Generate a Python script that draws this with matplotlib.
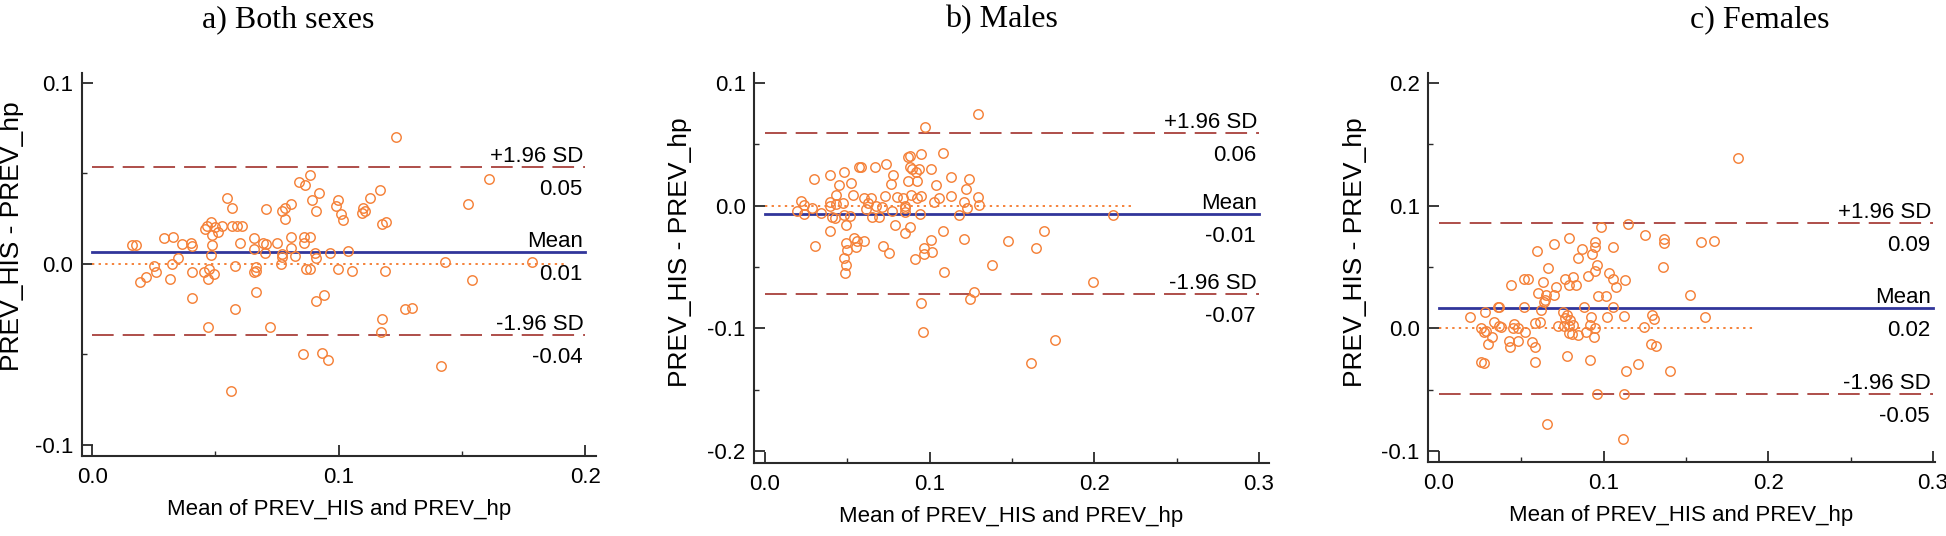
import matplotlib
matplotlib.use("Agg")
import matplotlib.pyplot as plt
from matplotlib.ticker import MultipleLocator, FormatStrFormatter

plt.rcParams["font.family"] = ["Liberation Sans", "DejaVu Sans"]
plt.rcParams["axes.unicode_minus"] = False

titles = ["a) Both sexes", "b) Males", "c) Females"]
x_label = "Mean of PREV_HIS and PREV_hp"
y_label = "PREV_HIS - PREV_hp"

# a) both sexes
both_x = [0.1234, 0.1610, 0.0882, 0.0839, 0.0865, 0.0921, 0.1169, 0.1126, 0.0995, 0.0989,
          0.0890, 0.0545, 0.0568, 0.0705, 0.0808, 0.0781, 0.0768, 0.0781, 0.0908, 0.1008,
          0.1016, 0.1100, 0.1106, 0.1094, 0.1523, 0.1174, 0.1190, 0.0482, 0.0465, 0.0458,
          0.0497, 0.0485, 0.0511, 0.0526, 0.0568, 0.0589, 0.0606, 0.0292, 0.0327, 0.0366,
          0.0400, 0.0403, 0.0163, 0.0176, 0.0485, 0.0598, 0.0655, 0.0694, 0.0706, 0.0750,
          0.0808, 0.0861, 0.0882, 0.0860, 0.0655, 0.0702, 0.0808, 0.0481, 0.0771, 0.0771,
          0.0824, 0.0905, 0.0908, 0.0966, 0.1039, 0.0350, 0.0252, 0.0323, 0.0261, 0.0219,
          0.0194, 0.0316, 0.0406, 0.0452, 0.0473, 0.0495, 0.0471, 0.0581, 0.0666, 0.0655,
          0.0666, 0.0765, 0.0868, 0.0882, 0.0998, 0.1055, 0.1187, 0.1432, 0.1782, 0.1540,
          0.0406, 0.0665, 0.0908, 0.0939, 0.0581, 0.1269, 0.1297, 0.1174, 0.0468, 0.0721,
          0.1171, 0.0855, 0.0931, 0.0956, 0.1416, 0.0563]
both_y = [0.0700, 0.0470, 0.0492, 0.0451, 0.0438, 0.0390, 0.0411, 0.0365, 0.0352, 0.0322,
          0.0352, 0.0365, 0.0311, 0.0304, 0.0331, 0.0309, 0.0293, 0.0250, 0.0293, 0.0276,
          0.0243, 0.0311, 0.0293, 0.0280, 0.0333, 0.0223, 0.0232, 0.0232, 0.0208, 0.0193,
          0.0203, 0.0162, 0.0177, 0.0212, 0.0212, 0.0212, 0.0212, 0.0144, 0.0151, 0.0112,
          0.0118, 0.0101, 0.0103, 0.0103, 0.0103, 0.0114, 0.0144, 0.0118, 0.0112, 0.0114,
          0.0151, 0.0151, 0.0151, 0.0114, 0.0085, 0.0059, 0.0090, 0.0048, 0.0057, 0.0041,
          0.0042, 0.0061, 0.0031, 0.0061, 0.0072, 0.0031, -0.0011, 0.0002, -0.0046, -0.0070,
          -0.0098, -0.0081, -0.0044, -0.0044, -0.0029, -0.0053, -0.0083, -0.0009, -0.0018, -0.0044,
          -0.0037, 0.0002, -0.0029, -0.0029, -0.0028, -0.0041, -0.0041, 0.0013, 0.0013, -0.0087,
          -0.0188, -0.0157, -0.0204, -0.0171, -0.0250, -0.0250, -0.0245, -0.0304, -0.0350, -0.0350,
          -0.0374, -0.0495, -0.0492, -0.0530, -0.0564, -0.0700]

# b) males
male_x = [0.1292, 0.0973, 0.1082, 0.0945, 0.0870, 0.0883, 0.0736, 0.0666, 0.0571, 0.0584,
          0.0880, 0.0890, 0.0938, 0.1010, 0.0479, 0.0397, 0.0776, 0.0915, 0.1130, 0.0299,
          0.1239, 0.0451, 0.0524, 0.0768, 0.0870, 0.0925, 0.1037, 0.1219, 0.0534, 0.0431,
          0.0731, 0.0603, 0.0646, 0.0800, 0.0838, 0.0885, 0.0923, 0.0948, 0.1057, 0.1130,
          0.1292, 0.0217, 0.0392, 0.0434, 0.0397, 0.0471, 0.0234, 0.0284, 0.0623, 0.0671,
          0.0613, 0.0711, 0.0850, 0.0853, 0.1027, 0.1209, 0.1229, 0.1302, 0.0192, 0.0239,
          0.0339, 0.0406, 0.0426, 0.0479, 0.0514, 0.0651, 0.0691, 0.0773, 0.0850, 0.0943,
          0.1177, 0.2115, 0.0788, 0.0883, 0.0494, 0.0392, 0.0850, 0.1080, 0.1696, 0.0541,
          0.0561, 0.0601, 0.0491, 0.0499, 0.0554, 0.0304, 0.0718, 0.0751, 0.1010, 0.1207,
          0.1474, 0.1648, 0.0968, 0.0968, 0.1015, 0.0910, 0.0479, 0.0491, 0.0484, 0.1377,
          0.1090, 0.1995, 0.1272, 0.1247, 0.0945, 0.0958, 0.1761, 0.1618]
male_y = [0.0743, 0.0642, 0.0430, 0.0419, 0.0397, 0.0405, 0.0340, 0.0316, 0.0316, 0.0316,
          0.0318, 0.0299, 0.0299, 0.0299, 0.0272, 0.0253, 0.0248, 0.0272, 0.0237, 0.0220,
          0.0220, 0.0171, 0.0188, 0.0174, 0.0199, 0.0201, 0.0171, 0.0139, 0.0087, 0.0087,
          0.0076, 0.0065, 0.0060, 0.0073, 0.0060, 0.0087, 0.0060, 0.0082, 0.0060, 0.0076,
          0.0073, 0.0038, 0.0033, 0.0011, -0.0005, 0.0024, 0.0008, -0.0019, 0.0022, 0.0000,
          -0.0030, -0.0014, 0.0000, -0.0016, 0.0027, 0.0030, -0.0016, 0.0003, -0.0041, -0.0068,
          -0.0063, -0.0093, -0.0103, -0.0076, -0.0082, -0.0090, -0.0093, -0.0041, -0.0054, -0.0065,
          -0.0073, -0.0073, -0.0158, -0.0171, -0.0158, -0.0207, -0.0223, -0.0207, -0.0207, -0.0261,
          -0.0286, -0.0288, -0.0305, -0.0359, -0.0335, -0.0327, -0.0327, -0.0386, -0.0283, -0.0269,
          -0.0288, -0.0343, -0.0348, -0.0395, -0.0381, -0.0438, -0.0430, -0.0484, -0.0550, -0.0484,
          -0.0544, -0.0626, -0.0707, -0.0759, -0.0797, -0.1029, -0.1097, -0.1280]

# c) females
female_x = [0.1818, 0.1149, 0.0986, 0.1248, 0.0788, 0.0696, 0.0949, 0.0946, 0.1055, 0.1367,
            0.1367, 0.1588, 0.1672, 0.0867, 0.0595, 0.0929, 0.0842, 0.0961, 0.1360, 0.0661,
            0.1030, 0.0949, 0.0902, 0.0812, 0.0765, 0.0788, 0.0830, 0.0540, 0.0515, 0.0634,
            0.1055, 0.1127, 0.1075, 0.0708, 0.0438, 0.0599, 0.0647, 0.0639, 0.0644, 0.0699,
            0.0966, 0.1016, 0.1526, 0.0515, 0.0367, 0.0359, 0.0619, 0.0277, 0.0882, 0.1055,
            0.0191, 0.0751, 0.0778, 0.0793, 0.0763, 0.0921, 0.1021, 0.1122, 0.1293, 0.1305,
            0.1618, 0.0332, 0.0362, 0.0374, 0.0456, 0.0580, 0.0614, 0.0451, 0.0481, 0.0255,
            0.0272, 0.0285, 0.0324, 0.0300, 0.0426, 0.0433, 0.0478, 0.0520, 0.0567, 0.0582,
            0.0721, 0.0760, 0.0790, 0.0812, 0.0790, 0.0808, 0.0842, 0.0894, 0.0941, 0.0949,
            0.0914, 0.1246, 0.1286, 0.1318, 0.0775, 0.0914, 0.0255, 0.0275, 0.0580, 0.1135,
            0.1206, 0.1402, 0.0961, 0.1122, 0.0654, 0.1115]
female_y = [0.1388, 0.0849, 0.0824, 0.0759, 0.0732, 0.0688, 0.0705, 0.0659, 0.0661, 0.0727,
            0.0699, 0.0702, 0.0713, 0.0650, 0.0626, 0.0607, 0.0569, 0.0512, 0.0501, 0.0490,
            0.0449, 0.0471, 0.0427, 0.0419, 0.0403, 0.0351, 0.0351, 0.0400, 0.0400, 0.0378,
            0.0403, 0.0395, 0.0337, 0.0337, 0.0351, 0.0291, 0.0272, 0.0212, 0.0229, 0.0272,
            0.0261, 0.0261, 0.0269, 0.0171, 0.0171, 0.0171, 0.0152, 0.0133, 0.0171, 0.0171,
            0.0090, 0.0133, 0.0106, 0.0071, 0.0082, 0.0090, 0.0090, 0.0098, 0.0106, 0.0076,
            0.0090, 0.0052, 0.0019, 0.0014, 0.0033, 0.0041, 0.0052, 0.0000, 0.0000, 0.0005,
            -0.0027, -0.0022, -0.0073, -0.0131, -0.0103, -0.0150, -0.0101, -0.0030, -0.0109, -0.0155,
            0.0016, 0.0016, 0.0019, 0.0027, -0.0041, -0.0049, -0.0052, -0.0030, -0.0071, 0.0000,
            0.0024, 0.0011, -0.0125, -0.0147, -0.0223, -0.0261, -0.0277, -0.0280, -0.0274, -0.0348,
            -0.0293, -0.0345, -0.0533, -0.0533, -0.0780, -0.0902]

mean_diff = [0.0068, -0.0065, 0.0163]
upper_loa = [0.0538, 0.0593, 0.0856]
lower_loa = [-0.0394, -0.0723, -0.0532]
zero_line_end = [0.193, 0.224, 0.1925]
line_end = [0.2, 0.3, 0.3]

series = [(both_x, both_y), (male_x, male_y), (female_x, female_y)]

# layout (figure pixels, 1946 x 536)
W, H = 1946, 536
axes_px = [(81.5, 73, 596, 456), (754, 73, 1269, 463), (1428, 73, 1935, 462)]
xlims = [(-0.0043, 0.2043), (-0.0067, 0.3061), (-0.0067, 0.3012)]
ylims = [(-0.1061, 0.1055), (-0.2098, 0.1081), (-0.109, 0.2081)]
title_x = [288, 1001, 1760]
ylabel_pos = [0.575, 0.54, 0.54]

ORANGE = "#f5823a"
BLUE = "#31359a"
RED = "#a8403c"
AXIS = "#2a2a2a"
FS = 16

fig = plt.figure(figsize=(W / 100, H / 100), dpi=100)

for i, (xs, ys) in enumerate(series):
    l, t, r, b = axes_px[i]
    ax = fig.add_axes([l / W, 1 - b / H, (r - l) / W, (b - t) / H])
    ax.set_xlim(*xlims[i])
    ax.set_ylim(*ylims[i])

    ax.plot([0, zero_line_end[i]], [0, 0], color=ORANGE, lw=1.4, ls=(0, (1.2, 2.2)), zorder=2)
    ax.plot([0, line_end[i]], [mean_diff[i]] * 2, color=BLUE, lw=2.0, zorder=2)
    for v in (upper_loa[i], lower_loa[i]):
        ax.plot([0, line_end[i]], [v, v], color=RED, lw=1.3, ls=(0, (12, 5)), zorder=2)
    ax.plot(xs, ys, "o", ms=6.8, mfc="none", mec=ORANGE, mew=1.05, zorder=3)

    for name, v in (("+1.96 SD", upper_loa[i]), ("Mean", mean_diff[i]), ("-1.96 SD", lower_loa[i])):
        ax.annotate(name, xy=(line_end[i], v), xytext=(-2, 5), textcoords="offset pixels",
                    ha="right", va="baseline", fontsize=FS)
        ax.annotate(f"{v:.2f}", xy=(line_end[i], v), xytext=(-3, -28), textcoords="offset pixels",
                    ha="right", va="baseline", fontsize=FS)

    for s in ("top", "right"):
        ax.spines[s].set_visible(False)
    for s in ("left", "bottom"):
        ax.spines[s].set_linewidth(1.5)
        ax.spines[s].set_color(AXIS)

    ax.xaxis.set_major_locator(MultipleLocator(0.1))
    ax.xaxis.set_minor_locator(MultipleLocator(0.05))
    ax.yaxis.set_major_locator(MultipleLocator(0.1))
    ax.yaxis.set_minor_locator(MultipleLocator(0.05))
    ax.xaxis.set_major_formatter(FormatStrFormatter("%.1f"))
    ax.yaxis.set_major_formatter(FormatStrFormatter("%.1f"))
    ax.tick_params(which="major", direction="in", length=8, width=1.3, color=AXIS,
                   labelsize=FS, pad=6)
    ax.tick_params(which="minor", direction="in", length=3.5, width=1.0, color=AXIS)
    ax.tick_params(axis="x", which="major", pad=8)

    ax.set_xlabel(x_label, fontsize=16, labelpad=8)
    ax.set_ylabel(y_label, fontsize=19)
    ax.yaxis.set_label_coords(-0.112 if i == 0 else -0.12, ylabel_pos[i])

    fig.text(title_x[i] / W, 1 - 20 / H, titles[i], ha="center", va="center",
             fontsize=23, family=["Liberation Serif", "DejaVu Serif"])

fig.savefig("out.png", dpi=100)
